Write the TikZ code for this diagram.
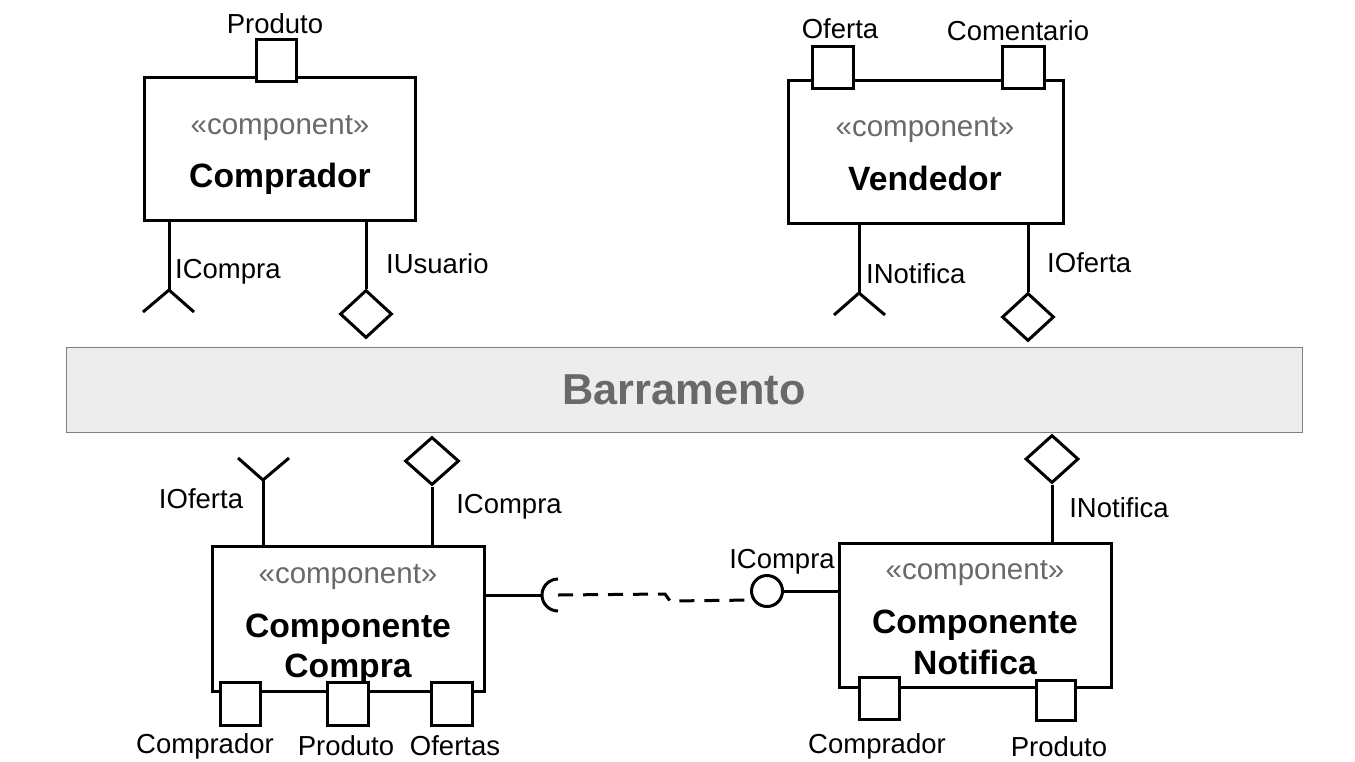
\documentclass[tikz,border=0pt]{standalone}
\usepackage{fontspec}
\setmainfont{Liberation Sans}
\usetikzlibrary{shapes.geometric,calc}
\definecolor{stereo}{RGB}{105,105,105}
\definecolor{busfill}{RGB}{237,237,237}
\definecolor{busline}{RGB}{128,128,128}
\tikzset{
  compbox/.style={draw, line width=3pt, fill=white, inner sep=0pt},
  portbox/.style={draw, line width=3pt, fill=white, inner sep=0pt, minimum width=40pt, minimum height=42pt},
  stereotxt/.style={text=stereo, font=\fontsize{29.5}{35}\selectfont},
  nametxt/.style={font=\fontsize{33.7}{40}\selectfont\bfseries, align=center},
  lbl/.style={font=\fontsize{27.5}{32}\selectfont, inner sep=0pt},
  wire/.style={line width=3pt},
  provided/.style={draw, diamond, line width=3pt, fill=white, inner sep=0pt, minimum width=52pt, minimum height=48pt},
  ballnode/.style={draw, circle, line width=3pt, fill=white, inner sep=0pt, minimum size=31pt},
}
\begin{document}
\begin{tikzpicture}[x=1pt,y=-1pt]
\useasboundingbox (0,0) rectangle (1355,761);

% ---------- Comprador ----------
\node[compbox, minimum width=271pt, minimum height=143pt] (comprador) at (279.5,148.5) {};
\node[stereotxt] (compradorS) at (280,128) {«component»};
\node[nametxt] (compradorN) at (280,179) {Comprador};
\node[portbox] (compradorP) at (276,60) {};
\node[lbl] (compradorPL) at (275,24) {Produto};
\coordinate (fk1) at (169,290);
\draw[wire] (comprador.south -| fk1) -- (fk1);
\draw[wire] (fk1) -- ++(-26,22);
\draw[wire] (fk1) -- ++(25,22);
\node[lbl, anchor=west] (fk1L) at (175,272) {ICompra};
\node[provided] (dm1) at (366,314) {};
\draw[wire] (comprador.south -| dm1) -- (dm1.north);
\node[lbl, anchor=west] (dm1L) at (386,264) {IUsuario};

% ---------- Vendedor ----------
\node[compbox, minimum width=275pt, minimum height=143pt] (vendedor) at (925.5,151.5) {};
\node[stereotxt] (vendedorS) at (925,130) {«component»};
\node[nametxt] (vendedorN) at (925,178) {Vendedor};
\node[portbox, minimum width=41pt] (vendedorP1) at (832.5,67.5) {};
\node[portbox, minimum width=42pt] (vendedorP2) at (1023,67.5) {};
\node[lbl] (vendedorP1L) at (840,29) {Oferta};
\node[lbl] (vendedorP2L) at (1018,31) {Comentario};
\coordinate (fk2) at (859,293);
\draw[wire] (vendedor.south -| fk2) -- (fk2);
\draw[wire] (fk2) -- ++(-25,22);
\draw[wire] (fk2) -- ++(26,22);
\node[lbl, anchor=west] (fk2L) at (866,274) {INotifica};
\node[provided] (dm2) at (1028,317) {};
\draw[wire] (vendedor.south -| dm2) -- (dm2.north);
\node[lbl, anchor=west] (dm2L) at (1047,263) {IOferta};

% ---------- Barramento ----------
\node[fill=busfill, draw=busline, line width=1pt, minimum width=1236pt, minimum height=85pt, inner sep=0pt] (bus) at (684,389.5) {};
\node[text=stereo, font=\fontsize{43.3}{52}\selectfont\bfseries] (busT) at (684,390) {Barramento};

% ---------- Componente Compra ----------
\node[compbox, minimum width=272pt, minimum height=145pt] (ccompra) at (348,618.5) {};
\node[stereotxt] (ccompraS) at (348,577) {«component»};
\node[nametxt] (ccompraN1) at (348,629) {Componente};
\node[nametxt] (ccompraN2) at (348,669) {Compra};
\node[portbox, minimum height=43pt] (ccompraP1) at (240,703.5) {};
\node[portbox, minimum width=41pt, minimum height=43pt] (ccompraP2) at (347.5,703.5) {};
\node[portbox, minimum width=41pt, minimum height=43pt] (ccompraP3) at (451.5,703.5) {};
\node[lbl] (ccompraP1L) at (205,746) {Comprador};
\node[lbl] (ccompraP2L) at (346,746) {Produto};
\node[lbl] (ccompraP3L) at (455,746) {Ofertas};
\coordinate (fk3) at (263,480);
\draw[wire] (ccompra.north -| fk3) -- (fk3);
\draw[wire] (fk3) -- ++(-25,-22);
\draw[wire] (fk3) -- ++(26,-22);
\node[lbl] (fk3L) at (201,499) {IOferta};
\node[provided, minimum width=54pt] (dm3) at (432,461) {};
\draw[wire] (ccompra.north -| dm3) -- (dm3.south);
\node[lbl] (dm3L) at (509,507) {ICompra};

% ---------- Componente Notifica ----------
\node[compbox, minimum width=272pt, minimum height=144pt] (cnotif) at (975,615) {};
\node[stereotxt] (cnotifS) at (975,573) {«component»};
\node[nametxt] (cnotifN1) at (975,625) {Componente};
\node[nametxt] (cnotifN2) at (975,662) {Notifica};
\node[portbox] (cnotifP1) at (879,698) {};
\node[portbox, minimum width=39pt, minimum height=40pt] (cnotifP2) at (1055.5,700) {};
\node[lbl] (cnotifP1L) at (877,746) {Comprador};
\node[lbl] (cnotifP2L) at (1059,747) {Produto};
\node[provided, minimum width=53pt] (dm4) at (1052,459) {};
\draw[wire] (cnotif.north -| dm4) -- (dm4.south);
\node[lbl] (dm4L) at (1119,508) {INotifica};

% ---------- assembly connector ----------
\coordinate (sockc) at (558,595);
\coordinate (sockl) at (542,595);
\draw[wire] (ccompra.east |- sockl) -- (sockl);
\draw[wire] ($(sockc)+(0,-16)$) arc[start angle=90, end angle=270, radius=16pt];
\node[ballnode] (ball) at (767,591) {};
\draw[wire] (ball.east) -- (cnotif.west |- ball.east);
\node[lbl, anchor=south] (ballL) at (782,574) {ICompra};
\coordinate (dj1) at (665,594);
\coordinate (dj2) at (670,601);
\draw[wire, dash pattern=on 15pt off 10pt] (sockc) -- (dj1) -- (dj2) -- (ball.212);
\end{tikzpicture}
\end{document}
